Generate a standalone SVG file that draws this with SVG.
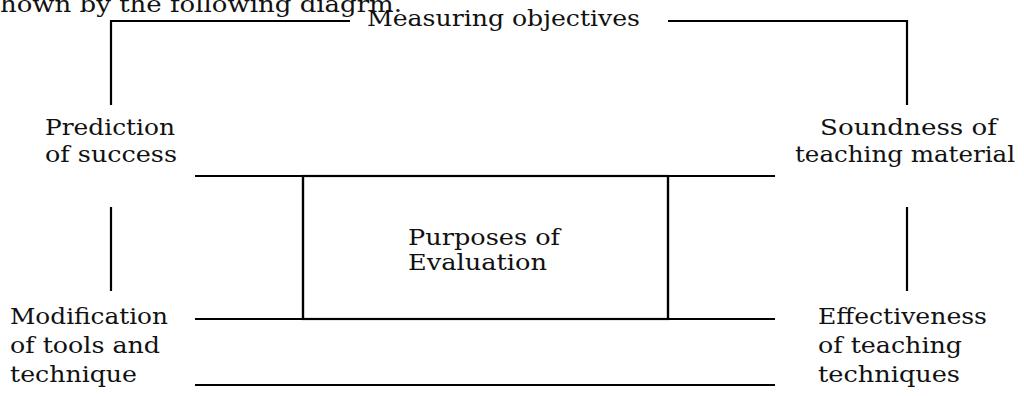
<svg xmlns="http://www.w3.org/2000/svg" width="1024" height="396" viewBox="0 0 1024 396">
<style>
text{font-family:"DejaVu Serif","Liberation Serif",serif;font-size:22px;fill:#111}
.ln{stroke:#000;stroke-width:2.2;fill:none}
</style>
<rect width="1024" height="396" fill="#fff"/>
<text x="0" y="12" textLength="402" lengthAdjust="spacingAndGlyphs">hown by the following diagrm.</text>
<g id="connectors">
<polyline class="ln" points="111,105 111,21 350,21"/>
<polyline class="ln" points="668,21 907,21 907,105"/>
<line class="ln" x1="111" y1="207" x2="111" y2="291"/>
<line class="ln" x1="907" y1="207" x2="907" y2="291"/>
<line class="ln" x1="195" y1="385" x2="775" y2="385"/>
</g>
<g id="measuring">
<text x="367" y="26" textLength="273" lengthAdjust="spacingAndGlyphs">Measuring objectives</text>
</g>
<g id="prediction">
<text x="45" y="135" textLength="130" lengthAdjust="spacingAndGlyphs">Prediction</text>
<text x="45" y="162" textLength="132" lengthAdjust="spacingAndGlyphs">of success</text>
</g>
<g id="soundness">
<text x="820" y="135" textLength="177" lengthAdjust="spacingAndGlyphs">Soundness of</text>
<text x="795" y="162" textLength="220" lengthAdjust="spacingAndGlyphs">teaching material</text>
</g>
<g id="purposes">
<rect class="ln" x="303" y="176" width="365" height="143" stroke="none"/>
<line class="ln" x1="195" y1="176" x2="775" y2="176"/>
<line class="ln" x1="195" y1="319" x2="775" y2="319"/>
<line class="ln" x1="303" y1="176" x2="303" y2="319"/>
<line class="ln" x1="668" y1="176" x2="668" y2="319"/>
<text x="408" y="245" textLength="152" lengthAdjust="spacingAndGlyphs">Purposes of</text>
<text x="408" y="270" textLength="139" lengthAdjust="spacingAndGlyphs">Evaluation</text>
</g>
<g id="modification">
<text x="10" y="324" textLength="158" lengthAdjust="spacingAndGlyphs">Modification</text>
<text x="10" y="353" textLength="150" lengthAdjust="spacingAndGlyphs">of tools and</text>
<text x="10" y="382" textLength="127" lengthAdjust="spacingAndGlyphs">technique</text>
</g>
<g id="effectiveness">
<text x="818" y="324" textLength="169" lengthAdjust="spacingAndGlyphs">Effectiveness</text>
<text x="818" y="353" textLength="144" lengthAdjust="spacingAndGlyphs">of teaching</text>
<text x="818" y="382" textLength="142" lengthAdjust="spacingAndGlyphs">techniques</text>
</g>
</svg>
